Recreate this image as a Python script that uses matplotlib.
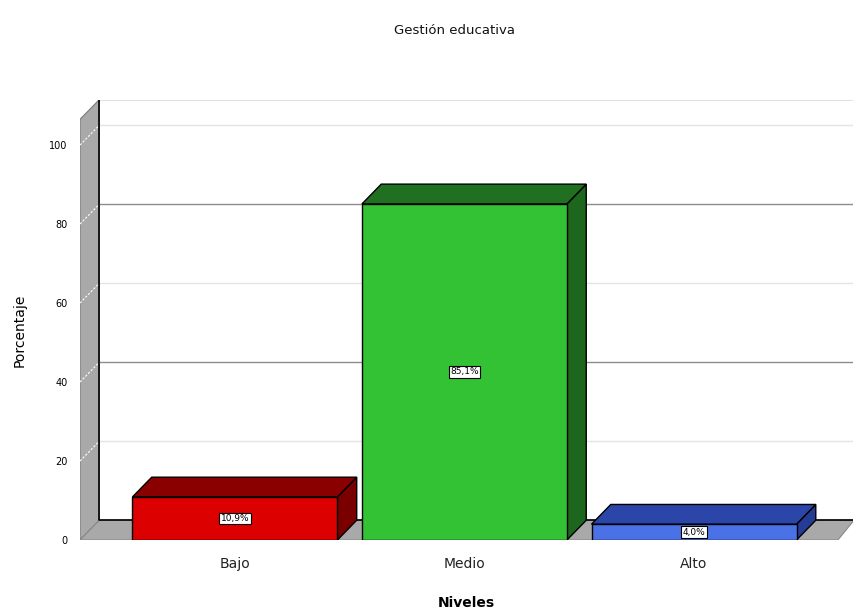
import numpy as np
import matplotlib.pyplot as plt
from matplotlib.patches import Polygon

categorias = ["Bajo", "Medio", "Alto"]
porcentajes = [10.9, 85.1, 4.0]
etiquetas = ["10,9%", "85,1%", "4,0%"]
ticks_y = [0, 20, 40, 60, 80, 100]

col_frente = ["#dd0000", "#33c233", "#4a72e6"]
col_arriba = ["#8a0000", "#216f21", "#2c45a8"]
col_lado = ["#7a0000", "#1d661d", "#253c96"]

fig = plt.figure(figsize=(8.54, 6.11), dpi=100)
ax = fig.add_axes([80 / 854, 71 / 611, 774 / 854, 440 / 611])

x0, x1 = -0.675, 2.697
ax.set_xlim(x0, x1)
ax.set_ylim(0, 111.4)
dx, dy = 0.084, 5.0   # profundidad del efecto 3D
ancho = 0.893
techo = 106.5

# pared izquierda
ax.add_patch(Polygon([(x0, 0), (x0 + dx, dy), (x0 + dx, techo + dy), (x0, techo)],
                     closed=True, facecolor="#a9a9a9", edgecolor="#7a7a7a", lw=0.8, zorder=1))
# piso
x_piso = 2.627
ax.add_patch(Polygon([(x0, 0), (x_piso, 0), (x1, dy), (x0 + dx, dy)],
                     closed=True, facecolor="#a9a9a9", edgecolor="#8a8a8a", lw=0.8, zorder=1))

# lineas de la pared del fondo
for v in ticks_y[1:]:
    c = "#8c8c8c" if v in (40, 80) else "#e4e4e4"
    ax.plot([x0 + dx, x1], [v + dy, v + dy], color=c, lw=1, zorder=0.5)
    ax.plot([x0, x0 + dx], [v, v + dy], color="white", lw=0.8, ls=(0, (2, 1.5)), zorder=2)
ax.plot([x0 + dx, x1], [techo + dy, techo + dy], color="#dcdcdc", lw=1.2, zorder=0.5)
ax.plot([x0 + dx, x0 + dx, x1], [techo + dy, dy, dy], color="black", lw=1.2, zorder=2)

# barras
for i, v in enumerate(porcentajes):
    l, r = i - ancho / 2, i + ancho / 2
    ax.add_patch(Polygon([(r, 0), (r + dx, dy), (r + dx, v + dy), (r, v)], closed=True,
                         facecolor=col_lado[i], edgecolor="black", lw=1, zorder=3))
    ax.add_patch(Polygon([(l, v), (r, v), (r + dx, v + dy), (l + dx, v + dy)], closed=True,
                         facecolor=col_arriba[i], edgecolor="black", lw=1, zorder=3))
    ax.add_patch(Polygon([(l, 0), (r, 0), (r, v), (l, v)], closed=True,
                         facecolor=col_frente[i], edgecolor="black", lw=1, zorder=4))
    ax.text(i, v / 2, etiquetas[i], ha="center", va="center", fontsize=6.5, zorder=5,
            bbox=dict(boxstyle="square,pad=0.15", facecolor="white", edgecolor="black", lw=0.8))

ax.set_xticks(range(len(categorias)))
ax.set_xticklabels(categorias, fontsize=10, color="#222222")
ax.set_yticks(ticks_y)
ax.set_yticklabels([str(t) for t in ticks_y], fontsize=7)
ax.tick_params(axis="x", length=0, pad=12)
ax.tick_params(axis="y", length=0, pad=9)
for s in ax.spines.values():
    s.set_visible(False)

fig.text(455 / 854, 1 - 30 / 611, "Gestión educativa", ha="center", va="center",
         fontsize=9.5, fontweight="medium", color="#111111")
fig.text(466 / 854, 1 - 603 / 611, "Niveles", ha="center", va="center", fontsize=10, fontweight="bold")
fig.text(20 / 854, 1 - 330 / 611, "Porcentaje", ha="center", va="center", fontsize=10, rotation=90)

fig.savefig("out.png", dpi=100)
